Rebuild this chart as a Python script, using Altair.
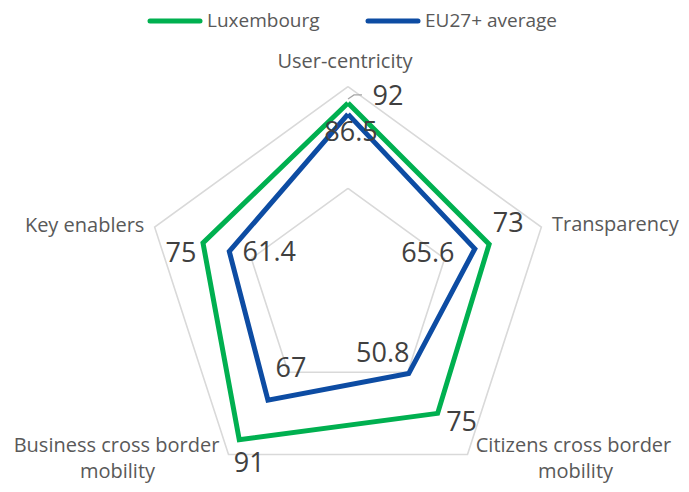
import altair as alt
import pandas as pd

# ---------------- data ----------------
categories = ["User-centricity", "Transparency", "Citizens cross border mobility",
              "Business cross border mobility", "Key enablers"]
series_names = ["Luxembourg", "EU27+ average"]
lux_values = [92, 73, 75, 91, 75]
eu_values = [86.5, 65.6, 50.8, 67, 61.4]
lux_labels = ["92", "73", "75", "91", "75"]
eu_labels = ["86.5", "65.6", "50.8", "67", "61.4"]
grid_levels = [50, 100]
axis_max = 100

# category label text lines (per axis)
cat_label_lines = [["User-centricity"], ["Transparency"],
                   ["Citizens cross border", "mobility"],
                   ["Business cross border", "mobility"], ["Key enablers"]]

# ---------------- style (pixel offsets) ----------------
lux_label_dx = [40, 19, 24, 10, -22]
lux_label_dy = [-6, -20, 10, 24, 11]
eu_label_dx = [3, -47, -26, 23, 40]
eu_label_dy = [19, 5, -20, -31, 2]
cat_label_dx = [[-3], [74], [106, 108], [-112, -111], [-70]]
cat_label_dy = [[-25], [-2], [-8, 18], [-8, 18], [-1]]

GREEN = "#00B050"
BLUE = "#0D4CA3"
GRID = "#D9D9D9"
FONT = "Open Sans"

W, H = 673, 476
CX, CY = 340, 282          # centre of the radar in plot coordinates
K = 2.033                  # pixels per value unit
x_dom = [-CX / K, (W - CX) / K]
y_dom = [-(H - CY) / K, CY / K]
N = len(categories)

xs = alt.Scale(domain=x_dom, nice=False, zero=False)
ys = alt.Scale(domain=y_dom, nice=False, zero=False)

angle_expr = f"datum.idx * 2 * PI / {N}"


def polar(chart, vfield="value", dxf=None, dyf=None):
    c = chart.transform_calculate(angle=angle_expr)
    if dxf is None:
        return c.transform_calculate(
            px=f"datum.{vfield} * sin(datum.angle)",
            py=f"datum.{vfield} * cos(datum.angle)")
    return c.transform_calculate(
        px=f"datum.{vfield} * sin(datum.angle) + datum.{dxf} / {K}",
        py=f"datum.{vfield} * cos(datum.angle) - datum.{dyf} / {K}")


# ---------------- tables ----------------
rows = []
for s, vals in zip(series_names, [lux_values, eu_values]):
    for i in range(N + 1):
        rows.append({"series": s, "idx": i, "order": i, "value": vals[i % N]})
lines_df = pd.DataFrame(rows)

grows = []
for lv in grid_levels:
    for i in range(N + 1):
        grows.append({"level": lv, "idx": i, "order": i, "value": lv})
grid_df = pd.DataFrame(grows)

lrows = []
for vals, labs, dxs, dys in [(lux_values, lux_labels, lux_label_dx, lux_label_dy),
                             (eu_values, eu_labels, eu_label_dx, eu_label_dy)]:
    for i in range(N):
        lrows.append({"idx": i, "value": vals[i], "label": labs[i],
                      "ox": dxs[i], "oy": dys[i]})
labels_df = pd.DataFrame(lrows)

crows = []
for i in range(N):
    for t, dx, dy in zip(cat_label_lines[i], cat_label_dx[i], cat_label_dy[i]):
        crows.append({"idx": i, "value": axis_max, "label": t, "ox": dx, "oy": dy})
cat_df = pd.DataFrame(crows)

# leader line for first Luxembourg label
leader_df = pd.DataFrame({"idx": [0, 0, 0], "order": [0, 1, 2],
                          "value": [lux_values[0]] * 3,
                          "ox": [0, 6, 14], "oy": [-4, -8, -8]})

# ---------------- layers ----------------
enc_xy = dict(x=alt.X("px:Q", scale=xs, axis=None),
              y=alt.Y("py:Q", scale=ys, axis=None))

grid = polar(alt.Chart(grid_df)).mark_line(
    stroke=GRID, strokeWidth=1.6, strokeJoin="miter").encode(
    detail="level:N", order="order:Q", **enc_xy)

series = polar(alt.Chart(lines_df)).mark_line(
    strokeWidth=5, strokeJoin="miter").encode(
    color=alt.Color("series:N", scale=alt.Scale(domain=series_names, range=[GREEN, BLUE]),
                    legend=None),
    order="order:Q", **enc_xy)

leader = polar(alt.Chart(leader_df), dxf="ox", dyf="oy").mark_line(
    stroke="#A6A6A6", strokeWidth=1.3).encode(order="order:Q", **enc_xy)

data_labels = polar(alt.Chart(labels_df), dxf="ox", dyf="oy").mark_text(
    font=FONT, fontSize=27, color="#404040", align="center", baseline="middle").encode(
    text="label:N", **enc_xy)

cat_labels = polar(alt.Chart(cat_df), dxf="ox", dyf="oy").mark_text(
    font=FONT, fontSize=20, color="#595959", align="center", baseline="middle").encode(
    text="label:N", **enc_xy)

# manual legend
leg_df = pd.DataFrame({"a": [0]})
legend_layers = []
LEG_Y = 13
for name, col, x0 in [(series_names[0], GREEN, 142), (series_names[1], BLUE, 360)]:
    legend_layers.append(alt.Chart(leg_df).mark_rule(
        stroke=col, strokeWidth=5, strokeCap="round").encode(
        x=alt.value(x0), x2=alt.value(x0 + 50), y=alt.value(LEG_Y)))
    legend_layers.append(alt.Chart(leg_df).mark_text(
        text=name, font=FONT, fontSize=19, color="#595959",
        align="left", baseline="middle").encode(
        x=alt.value(x0 + 57), y=alt.value(LEG_Y)))

chart = alt.layer(grid, series, leader, data_labels, cat_labels, *legend_layers).properties(
    width=W, height=H,
    autosize=alt.AutoSizeParams(type="none"),
    padding={"left": 0, "top": 0, "right": 0, "bottom": 0},
    background="white",
).configure_view(stroke=None)

chart.save("out.html", embed_options={"renderer": "svg", "actions": False})
